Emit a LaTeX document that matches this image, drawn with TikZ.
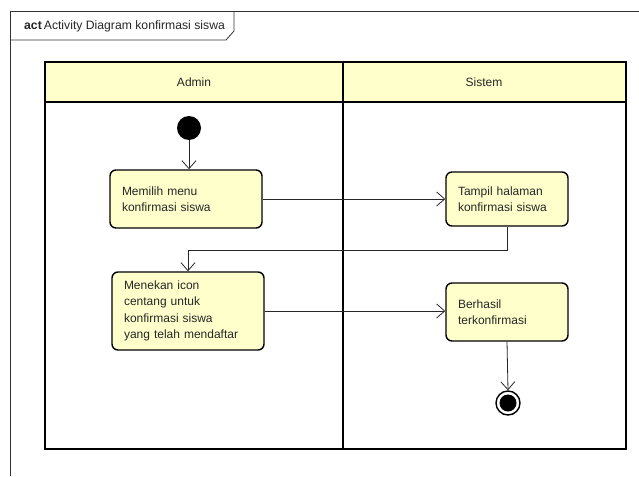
\documentclass[tikz,border=0pt]{standalone}
\usepackage{fontspec}
\setmainfont{Liberation Sans}
\usetikzlibrary{arrows.meta,positioning}
\definecolor{umlyellow}{RGB}{255,255,204}
\begin{document}
\begin{tikzpicture}[
  x=1pt, y=-1pt,
  every node/.style={font=\fontsize{12}{16.5}\selectfont, text=black!85},
  action/.style={draw=black, line width=1.4pt, rounded corners=6pt, fill=umlyellow, inner xsep=12pt, align=left},
  flow/.style={draw=black!85, line width=0.8pt, -{Straight Barb[length=8pt,width=14pt]}},
  lane/.style={draw=black, line width=1.8pt}
]
  \useasboundingbox (0,0) rectangle (639,476);
  % frame with title tab
  \draw[black!80, line width=0.8pt] (10,476) -- (10,11) -- (639,11);
  \draw[black!80, line width=0.8pt] (10,40) -- (226,40) -- (234,31) -- (234,11);
  \node[anchor=west, inner sep=0pt, font=\fontsize{12.2}{15}\selectfont] (title) at (24,26) {\textbf{act}\,Activity Diagram konfirmasi siswa};
  % swimlanes
  \draw[lane, fill=umlyellow] (45,62) rectangle (626,102);
  \draw[lane] (45,102) rectangle (626,449);
  \draw[lane] (343,62) -- (343,449);
  \node (admin) at (194,82) {Admin};
  \node (sistem) at (484,82) {Sistem};
  % activities
  \node[circle, fill=black, minimum size=24pt, inner sep=0pt] (start) at (189,128) {};
  \node[action, minimum width=152pt, minimum height=58pt, text width=128pt] (memilih) at (186,199) {Memilih menu\\konfirmasi siswa};
  \node[action, minimum width=122pt, minimum height=54pt, text width=98pt] (tampil) at (507,199) {Tampil halaman\\konfirmasi siswa};
  \node[action, minimum width=152pt, minimum height=78pt, text width=128pt] (menekan) at (188,311) {Menekan icon\\centang untuk\\konfirmasi siswa\\yang telah mendaftar};
  \node[action, minimum width=122pt, minimum height=58pt, text width=98pt] (berhasil) at (507,312) {Berhasil\\terkonfirmasi};
  \node[circle, draw=black, line width=1.4pt, fill=white, minimum size=24pt, inner sep=0pt] (end) at (508,403) {};
  \fill[black] (end) circle (8.5pt);
  % flows
  \draw[flow] (start) -- (start |- memilih.north);
  \draw[flow] (memilih.east) -- (memilih.east -| tampil.west);
  \draw[flow] (tampil.south) -- ++(0,24) -| (menekan.north);
  \draw[flow] (menekan.east) -- (menekan.east -| berhasil.west);
  \draw[flow] (berhasil.south) -- (end.north);
\end{tikzpicture}
\end{document}
